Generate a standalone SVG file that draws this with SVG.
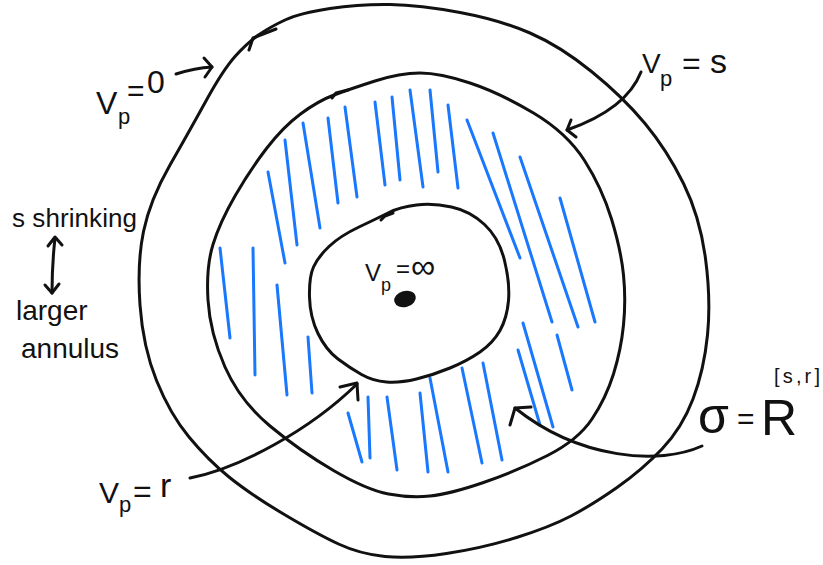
<svg xmlns="http://www.w3.org/2000/svg" width="823" height="565" viewBox="0 0 823 565">
<style>
.ink{fill:none;stroke:#111;stroke-width:3;stroke-linecap:round;stroke-linejoin:round}
.hatch line{stroke:#1a78ff;stroke-width:3;stroke-linecap:round}
.t{font-family:"Liberation Sans",Arial,sans-serif;fill:#111}
</style>
<rect width="823" height="565" fill="#fff"/>
<g id="outer-boundary">
<path class="ink" d="M330,8.5 Q360,4 390,4.5 Q420,5 460,12.5 Q500,20 530,33 Q560,46 591.5,71.5 Q623,97 645,123.5 Q667,150 683.5,183.5 Q700,217 705.5,258.5 Q711,300 707.5,335 Q704,370 693,399 Q682,428 662,449 Q642,470 617,487.5 Q592,505 571,516 Q550,527 516.5,537.5 Q483,548 446.5,553.5 Q410,559 385,556.5 Q360,554 338.5,544 Q317,534 283.5,514 Q250,494 229,477 Q208,460 189,437 Q170,414 156.5,380.5 Q143,347 140,305 Q137,263 143.5,231.5 Q150,200 170,165 Q190,130 206.5,100 Q223,70 235,56.5 Q247,43 258.5,35 Q270,27 285,20 Q300,13 330,8.5 Z"/>
<polyline class="ink" points="249,50 253,38 276,29"/>
</g>
<g id="middle-boundary">
<path class="ink" d="M375,81 Q400,73 420,73 Q440,73 470,83 Q500,93 533.5,113 Q567,133 584.5,160.5 Q602,188 611.5,219 Q621,250 623.5,275 Q626,300 623.5,325 Q621,350 613.5,374 Q606,398 592,419 Q578,440 547.5,455.5 Q517,471 483.5,482.5 Q450,494 430,496 Q410,498 388.5,494 Q367,490 333.5,470.5 Q300,451 270,426 Q240,401 225,367 Q210,333 208,300 Q206,267 213,244.5 Q220,222 235,196 Q250,170 266.5,148.5 Q283,127 300.5,114 Q318,101 334,95 Q350,89 375,81 Z"/>
<polyline class="ink" points="332,98 336,93 348,90"/>
</g>
<g id="shaded-annulus" class="hatch">
<line x1="220" y1="248" x2="230" y2="338"/>
<line x1="253" y1="248" x2="255" y2="375"/>
<line x1="268" y1="172" x2="285" y2="263"/>
<line x1="277" y1="285" x2="287" y2="395"/>
<line x1="308" y1="337" x2="312" y2="393"/>
<line x1="285" y1="140" x2="297" y2="245"/>
<line x1="303" y1="123" x2="320" y2="228"/>
<line x1="328" y1="118" x2="338" y2="203"/>
<line x1="345" y1="107" x2="357" y2="197"/>
<line x1="375" y1="102" x2="385" y2="185"/>
<line x1="392" y1="97" x2="400" y2="180"/>
<line x1="410" y1="90" x2="423" y2="187"/>
<line x1="430" y1="90" x2="438" y2="172"/>
<line x1="448" y1="105" x2="458" y2="188"/>
<line x1="467" y1="120" x2="520" y2="258"/>
<line x1="493" y1="133" x2="552" y2="322"/>
<line x1="520" y1="157" x2="578" y2="327"/>
<line x1="560" y1="198" x2="595" y2="322"/>
<line x1="518" y1="350" x2="540" y2="425"/>
<line x1="523" y1="323" x2="553" y2="427"/>
<line x1="557" y1="335" x2="572" y2="390"/>
<line x1="348" y1="413" x2="362" y2="462"/>
<line x1="368" y1="397" x2="370" y2="458"/>
<line x1="387" y1="397" x2="397" y2="470"/>
<line x1="420" y1="393" x2="428" y2="472"/>
<line x1="430" y1="378" x2="448" y2="472"/>
<line x1="462" y1="368" x2="482" y2="463"/>
<line x1="483" y1="363" x2="502" y2="460"/>
</g>
<g id="inner-boundary">
<path class="ink" d="M416.5,205 Q433,203 451.5,207 Q470,211 484.5,224.5 Q499,238 504.5,260.5 Q510,283 508.5,300.5 Q507,318 500,330.5 Q493,343 480,352 Q467,361 450,368 Q433,375 416.5,379 Q400,383 386.5,382 Q373,381 361.5,374.5 Q350,368 338,359 Q326,350 318,333.5 Q310,317 309.5,297 Q309,277 313.5,267 Q318,257 329,246.5 Q340,236 359,227 Q378,218 389,212.5 Q400,207 416.5,205 Z"/>
<polyline class="ink" points="381,220 385,216 393,213"/>
</g>
<g id="center-point">
<ellipse cx="405" cy="299" rx="11" ry="8" transform="rotate(-15 405 299)" fill="#111"/>
<text class="t"><tspan x="365" y="281" font-size="24">V</tspan><tspan x="381" y="291" font-size="18">p</tspan><tspan x="396" y="277" font-size="24">=</tspan><tspan x="411" y="278" font-size="34">∞</tspan></text>
</g>
<g id="label-vp0">
<text class="t"><tspan x="96" y="114" font-size="32">V</tspan><tspan x="118" y="124" font-size="22">p</tspan><tspan x="127" y="101" font-size="30">=</tspan><tspan x="147" y="93" font-size="32">0</tspan></text>
</g>
<g id="label-vps">
<text class="t"><tspan x="642" y="73" font-size="28">V</tspan><tspan x="660" y="86" font-size="22">p</tspan><tspan x="682" y="74" font-size="32">=</tspan><tspan x="710" y="73" font-size="34">s</tspan></text>
</g>
<g id="label-vpr">
<text class="t"><tspan x="99" y="503" font-size="30">V</tspan><tspan x="119" y="512" font-size="22">p</tspan><tspan x="133" y="502" font-size="32">=</tspan><tspan x="160" y="497" font-size="34">r</tspan></text>
</g>
<g id="label-sigma">
<text class="t"><tspan x="698" y="433" font-size="50">σ</tspan><tspan x="737" y="429" font-size="30">=</tspan><tspan x="761" y="435" font-size="50">R</tspan></text>
<text class="t" x="774" y="383" font-size="20" textLength="46">[s,r]</text>
</g>
<g id="label-note">
<text class="t" x="12" y="227" font-size="26" textLength="125">s shrinking</text>
<text class="t" x="16" y="320" font-size="28">larger</text>
<text class="t" x="21" y="358" font-size="28">annulus</text>
</g>
<g id="connectors">
<path class="ink" d="M176,74 Q195,68 212,67"/>
<polyline class="ink" points="204,58 212,67 205,77"/>
<path class="ink" d="M641,72 C632,95 610,115 567,130"/>
<polyline class="ink" points="571,120 567,130 576,137"/>
<path class="ink" d="M190,478 C240,468 310,430 357,384"/>
<polyline class="ink" points="340,387 357,383 358,400"/>
<path class="ink" d="M702,446 C660,465 580,460 515,408"/>
<polyline class="ink" points="510,425 515,408 531,407"/>
<path class="ink" d="M55,238 Q52,265 52,293"/>
<polyline class="ink" points="48,246 55,237 62,245"/>
<polyline class="ink" points="45,285 52,293 59,284"/>
</g>
</svg>
